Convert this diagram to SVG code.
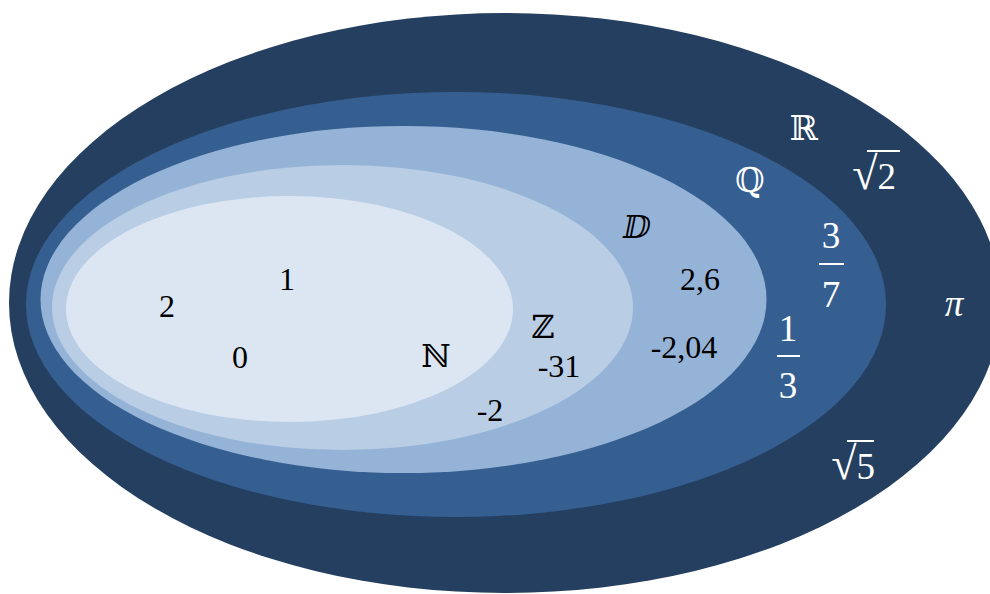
<svg xmlns="http://www.w3.org/2000/svg" width="990" height="594" viewBox="0 0 990 594">
<style>
.t{font-family:"Liberation Serif","Times New Roman",serif;font-size:32px;fill:#000;text-anchor:middle}
.w{font-family:"Liberation Serif","Times New Roman",serif;font-size:37px;fill:#fff;text-anchor:middle}
.ds{font-family:"DejaVu Serif","DejaVu Sans",serif;font-size:32px;text-anchor:middle}
.dw{font-family:"DejaVu Serif","DejaVu Sans",serif;font-size:34px;text-anchor:middle;fill:#fff}
.bar{stroke:#fff;stroke-width:2}
</style>
<rect width="990" height="594" fill="#fff"/>
<g id="R">
<ellipse cx="505" cy="303" rx="496" ry="290" fill="#243F60"/>
<text class="dw" x="804" y="140">ℝ</text>
<text class="w" x="874" y="189"><tspan font-size="46">√</tspan>2</text>
<line class="bar" x1="867" y1="151" x2="900" y2="151"/>
<text class="w" x="954" y="316" font-style="italic">π</text>
<text class="w" x="853" y="479"><tspan font-size="46">√</tspan>5</text>
<line class="bar" x1="847" y1="441" x2="874" y2="441"/>
</g>
<g id="Q">
<ellipse cx="456" cy="304.5" rx="430" ry="212.5" fill="#365F91"/>
<text class="dw" x="750" y="192">ℚ</text>
<text class="w" x="831" y="248">3</text>
<line class="bar" x1="819" y1="264" x2="844" y2="264"/>
<text class="w" x="831" y="307">7</text>
<text class="w" x="788" y="341">1</text>
<line class="bar" x1="777" y1="356" x2="800" y2="356"/>
<text class="w" x="788" y="398">3</text>
</g>
<g id="D">
<ellipse cx="403.5" cy="299.5" rx="363" ry="173.5" fill="#95B3D7"/>
<text class="ds" x="637" y="238" fill="#000">ⅅ</text>
<text class="t" x="700" y="290">2,6</text>
<text class="t" x="684" y="358">-2,04</text>
</g>
<g id="Z">
<ellipse cx="342.5" cy="307.5" rx="290.5" ry="142.5" fill="#B9CDE5"/>
<text class="ds" x="543" y="338" fill="#000">ℤ</text>
<text class="t" x="559" y="377">-31</text>
<text class="t" x="490" y="421">-2</text>
</g>
<g id="N">
<ellipse cx="289.5" cy="309" rx="223.5" ry="113" fill="#DCE6F2"/>
<text class="ds" x="436" y="367" fill="#000">ℕ</text>
<text class="t" x="167" y="317">2</text>
<text class="t" x="287" y="290">1</text>
<text class="t" x="240" y="368">0</text>
</g>
</svg>
